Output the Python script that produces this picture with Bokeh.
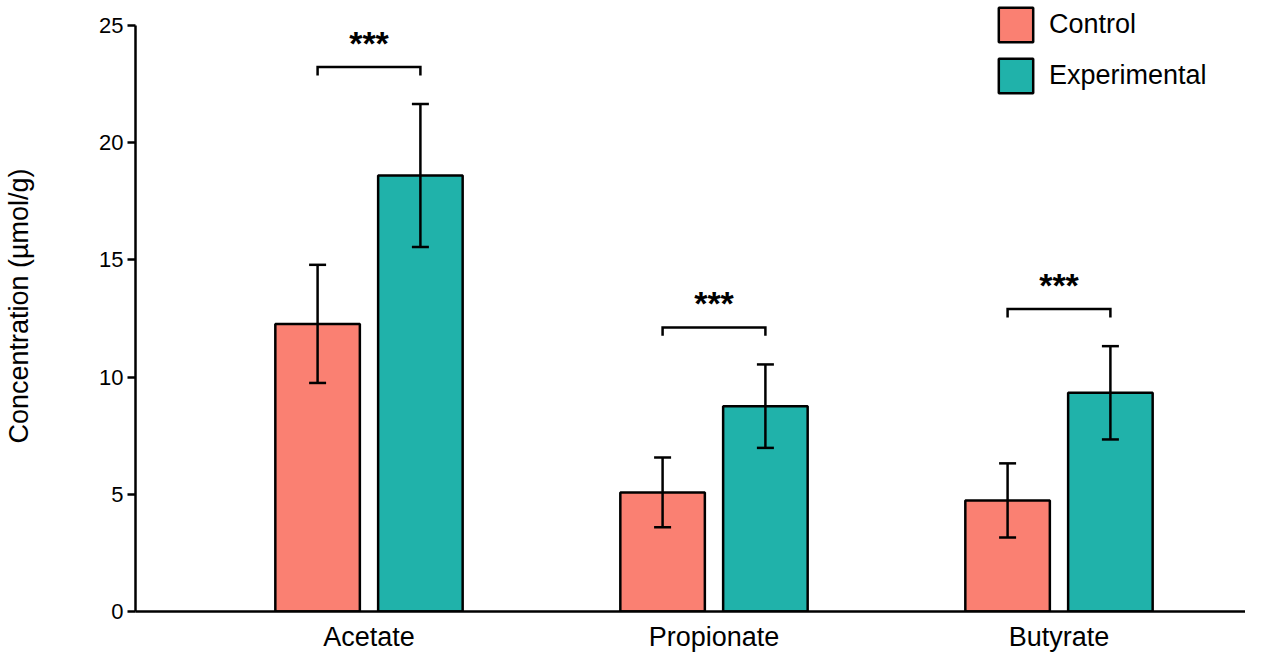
from bokeh.plotting import figure
from bokeh.models import (ColumnDataSource, Whisker, TeeHead, FixedTicker, Range1d,
                          Legend, LegendItem)
from bokeh.core.properties import value
from bokeh.embed import file_html
from bokeh.resources import INLINE

# ---- data ----
categories = ["Acetate", "Propionate", "Butyrate"]
control_mean = [12.27, 5.08, 4.74]
control_err = [2.52, 1.49, 1.58]
exp_mean = [18.60, 8.76, 9.33]
exp_err = [3.05, 1.78, 1.99]
significance = ["***", "***", "***"]
y_ticks = [0, 5, 10, 15, 20, 25]
series_names = ["Control", "Experimental"]
colors = ["#FA8072", "#20B2AA"]

FONT = "Liberation Sans"
pos = [i + 1 for i in range(len(categories))]
offset = 0.149
bar_w = 0.245

ctrl_x = [p_ - offset for p_ in pos]
exp_x = [p_ + offset for p_ in pos]

src_c = ColumnDataSource(dict(x=ctrl_x, top=control_mean,
                              upper=[m + e for m, e in zip(control_mean, control_err)],
                              lower=[m - e for m, e in zip(control_mean, control_err)]))
src_e = ColumnDataSource(dict(x=exp_x, top=exp_mean,
                              upper=[m + e for m, e in zip(exp_mean, exp_err)],
                              lower=[m - e for m, e in zip(exp_mean, exp_err)]))

p = figure(width=1245, height=655,
           x_range=Range1d(0.3232, 3.5406), y_range=Range1d(0, 26.066),
           output_backend="svg", toolbar_location=None,
           min_border_left=135, min_border_right=0, min_border_top=0, min_border_bottom=44)
p.outline_line_color = None
p.grid.visible = False
p.background_fill_color = "white"

r_c = p.vbar(x="x", top="top", width=bar_w, bottom=0, source=src_c,
             fill_color=colors[0], line_color="black", line_width=2.5)
r_e = p.vbar(x="x", top="top", width=bar_w, bottom=0, source=src_e,
             fill_color=colors[1], line_color="black", line_width=2.5)

for src in (src_c, src_e):
    w = Whisker(source=src, base="x", upper="upper", lower="lower",
                line_color="black", line_width=2.5, level="overlay",
                upper_head=TeeHead(size=17, line_width=2.5, line_color="black"),
                lower_head=TeeHead(size=17, line_width=2.5, line_color="black"))
    p.add_layout(w)

# significance brackets
gap = 1.58
drop = 0.36
bracket_y = [max(cm + ce, em + ee) + gap for cm, ce, em, ee in
             zip(control_mean, control_err, exp_mean, exp_err)]
xs = [[a, a, b, b] for a, b in zip(ctrl_x, exp_x)]
ys = [[h - drop, h, h, h - drop] for h in bracket_y]
p.multi_line(xs=xs, ys=ys, line_color="black", line_width=2.5, line_join="miter")
p.text(x=pos, y=bracket_y, text=significance, text_align="center",
       text_baseline="alphabetic", y_offset=-24,
       text_font=value(FONT), text_font_style="bold", text_font_size="34px",
       text_color="black")

# axes
p.yaxis.ticker = FixedTicker(ticks=y_ticks)
p.yaxis.bounds = (0, 25)
p.yaxis.minor_tick_line_color = None
p.yaxis.major_tick_in = 0
p.yaxis.major_tick_out = 8
p.yaxis.major_tick_line_width = 2.5
p.yaxis.axis_line_width = 2.5
p.yaxis.major_label_text_font = FONT
p.yaxis.major_label_text_font_size = "22px"
p.yaxis.major_label_text_color = "black"
p.yaxis.major_label_standoff = 4
p.yaxis.axis_label = "Concentration (µmol/g)"
p.yaxis.axis_label_text_font = FONT
p.yaxis.axis_label_text_font_size = "27px"
p.yaxis.axis_label_text_font_style = "normal"
p.yaxis.axis_label_text_color = "black"
p.yaxis.axis_label_standoff = 62

p.xaxis.ticker = FixedTicker(ticks=pos)
p.xaxis.major_label_overrides = {p_: c for p_, c in zip(pos, categories)}
p.xaxis.minor_tick_line_color = None
p.xaxis.major_tick_line_color = None
p.xaxis.major_tick_in = 0
p.xaxis.major_tick_out = 0
p.xaxis.axis_line_width = 2.5
p.xaxis.major_label_text_font = FONT
p.xaxis.major_label_text_font_size = "27px"
p.xaxis.major_label_text_color = "black"
p.xaxis.major_label_standoff = 10

legend = Legend(items=[LegendItem(label=series_names[0], renderers=[r_c]),
                       LegendItem(label=series_names[1], renderers=[r_e])],
                location=(859, 514), glyph_width=43, glyph_height=43, spacing=8,
                padding=0, margin=0, label_standoff=12,
                label_text_font=FONT, label_text_font_size="27px",
                label_text_color="black",
                border_line_color=None, background_fill_alpha=0)
p.add_layout(legend)

open("out.html", "w").write(file_html(p, INLINE))
